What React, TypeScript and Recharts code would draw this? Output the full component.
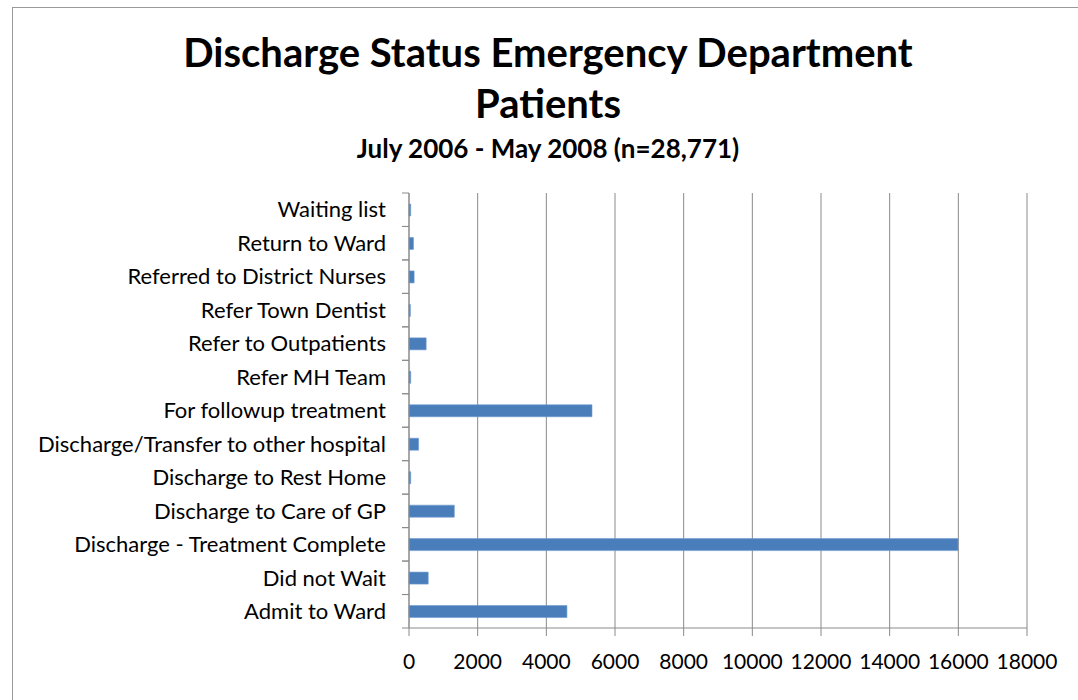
import { BarChart, Bar, XAxis, YAxis, CartesianGrid } from 'recharts';

const categories = [
  'Admit to Ward',
  'Did not Wait',
  'Discharge - Treatment Complete',
  'Discharge to Care of GP',
  'Discharge to Rest Home',
  'Discharge/Transfer to other hospital',
  'For followup treatment',
  'Refer MH Team',
  'Refer to Outpatients',
  'Refer Town Dentist',
  'Referred to District Nurses',
  'Return to Ward',
  'Waiting list',
];

const patients = [4600, 560, 15990, 1320, 50, 280, 5330, 50, 500, 40, 150, 130, 50];

const xTicks = [0, 2000, 4000, 6000, 8000, 10000, 12000, 14000, 16000, 18000];

const data = categories.map((status, i) => ({ status, patients: patients[i] }));

const FONT = 'Lato, "Open Sans", sans-serif';
const GRID = '#8a8a8a';
const PLOT_TOP = 193;
const PLOT_BOTTOM = 628;
const BAND = (PLOT_BOTTOM - PLOT_TOP) / categories.length;

function StatusTick(props: any) {
  const { x, y, payload } = props;
  return (
    <g>
      <text
        x={x}
        y={y}
        dy="0.35em"
        textAnchor="end"
        fill="#000"
        fontSize={22}
        fontFamily={FONT}
      >
        {payload.value}
      </text>
      <line x1={x + 16} x2={x + 23} y1={y - BAND / 2} y2={y - BAND / 2} stroke={GRID} />
      <line x1={x + 16} x2={x + 23} y1={y + BAND / 2} y2={y + BAND / 2} stroke={GRID} />
    </g>
  );
}

export default function App() {
  return (
    <div
      style={{
        position: 'absolute',
        left: 0,
        top: 0,
        width: 1078,
        height: 700,
        background: '#fff',
        overflow: 'hidden',
        fontFamily: FONT,
      }}
    >
      <div
        style={{
          position: 'absolute',
          left: 12,
          top: 7,
          width: 1100,
          height: 720,
          borderLeft: '1px solid #9a9a9a',
          borderTop: '1px solid #9a9a9a',
        }}
      />
      <div
        style={{
          position: 'absolute',
          left: 0,
          width: 1096,
          top: 27,
          textAlign: 'center',
          fontWeight: 700,
          fontSize: 40,
          lineHeight: '51px',
          color: '#000',
        }}
      >
        Discharge Status Emergency Department
        <br />
        Patients
      </div>
      <div
        style={{
          position: 'absolute',
          left: 0,
          width: 1096,
          top: 133,
          textAlign: 'center',
          fontWeight: 700,
          fontSize: 26,
          lineHeight: '30px',
          color: '#000',
        }}
      >
        July 2006 - May 2008 (n=28,771)
      </div>
      <div style={{ position: 'absolute', left: 0, top: 0 }}>
        <BarChart
          width={1078}
          height={700}
          data={data}
          layout="vertical"
          margin={{ top: PLOT_TOP, right: 51, bottom: 22, left: 0 }}
        >
          <CartesianGrid horizontal={false} stroke={GRID} strokeWidth={1} />
          <XAxis
            type="number"
            domain={[0, 18000]}
            ticks={xTicks}
            interval={0}
            height={50}
            stroke={GRID}
            tickSize={8}
            tickMargin={18}
            tick={{ fill: '#000', fontSize: 21, fontFamily: FONT }}
          />
          <YAxis
            type="category"
            dataKey="status"
            reversed
            width={409}
            stroke={GRID}
            tickLine={false}
            tickMargin={17}
            interval={0}
            tick={<StatusTick />}
          />
          <Bar
            dataKey="patients"
            fill="#4a7ebb"
            stroke="#6f9bd1"
            strokeWidth={0.6}
            barSize={12}
            isAnimationActive={false}
          />
        </BarChart>
      </div>
    </div>
  );
}
